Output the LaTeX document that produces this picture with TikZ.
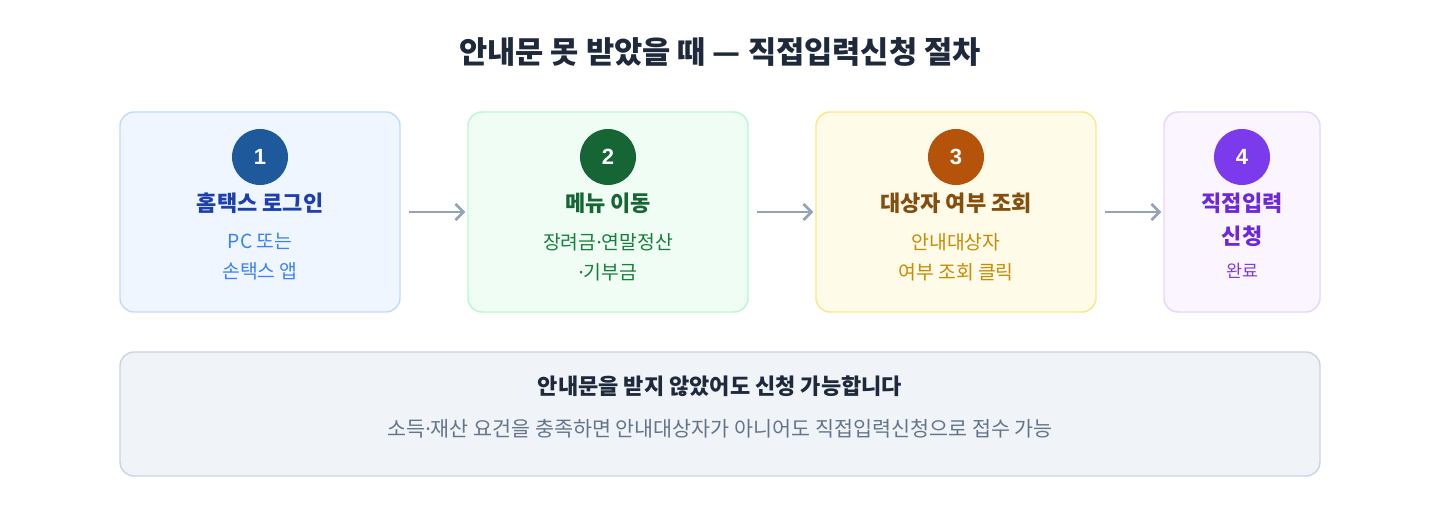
\documentclass[tikz,border=0pt]{standalone}
\usepackage{fontspec}
\setmainfont{Noto Sans CJK KR}
\newfontfamily\dotfont{Noto Sans}
\newfontfamily\numfont{Liberation Sans}[UprightFont={* Bold}]
\usepackage{tikz}
\usetikzlibrary{arrows.meta}

% narrow middle dot
\newcommand{\mdot}{{\dotfont ·}}

\definecolor{titlecol}{HTML}{1E293B}
\definecolor{arrowcol}{HTML}{94A3B8}
% step colours: fill, border, badge, heading, text
\definecolor{fillA}{HTML}{EFF6FF}\definecolor{lineA}{HTML}{BFDBFE}
\definecolor{badgeA}{HTML}{1E5A9B}\definecolor{headA}{HTML}{1E40AF}\definecolor{textA}{HTML}{3B82F6}
\definecolor{fillB}{HTML}{F0FDF4}\definecolor{lineB}{HTML}{BBF7D0}
\definecolor{badgeB}{HTML}{166534}\definecolor{headB}{HTML}{166534}\definecolor{textB}{HTML}{15803D}
\definecolor{fillC}{HTML}{FEFCE8}\definecolor{lineC}{HTML}{FDE68A}
\definecolor{badgeC}{HTML}{B45309}\definecolor{headC}{HTML}{854D0E}\definecolor{textC}{HTML}{CA8A04}
\definecolor{fillD}{HTML}{FAF5FF}\definecolor{lineD}{HTML}{E9D5FF}
\definecolor{badgeD}{HTML}{7C3AED}\definecolor{headD}{HTML}{6D28D9}\definecolor{textD}{HTML}{7C3AED}
\definecolor{fillN}{HTML}{F0F4F8}\definecolor{lineN}{HTML}{CBD5E1}
\definecolor{noteText}{HTML}{64748B}

\tikzset{
  stepbox/.style={draw=#1, line width=1.1pt, rounded corners=10.5pt,
    minimum height=150pt, inner sep=0pt},
  badge/.style={circle, fill=#1, minimum size=42pt, inner sep=0pt,
    text=white, font=\numfont\fontsize{16.5}{17}\selectfont},
  head/.style={text=#1, font=\fontsize{16.5}{18}\selectfont\bfseries, align=center},
  sub/.style={text=#1, font=\fontsize{14.5}{22.5}\selectfont, align=center},
  flow/.style={-{Straight Barb[length=6pt,width=12pt]}, arrowcol, line width=1.9pt,
    shorten <=6pt, shorten >=1.5pt},
}

\begin{document}
\begin{tikzpicture}[x=0.75pt, y=-0.75pt]
    \useasboundingbox[fill=white] (0,0) rectangle (1440,520);

    % title
    \node[text=titlecol, font=\fontsize{23}{25}\selectfont\bfseries] (title) at (720,52)
        {안내문 못 받았을 때 — 직접입력신청 절차};

    % step 1
    \node[stepbox=lineA, fill=fillA, minimum width=210pt] (s1) at (260,212) {};
    \node[badge=badgeA] (n1) at (260,157) {1};
    \node[head=headA] (h1) at (260,203) {홈택스 로그인};
    \node[sub=textA] (t1) at (260,257) {PC 또는\\손택스 앱};

    % step 2
    \node[stepbox=lineB, fill=fillB, minimum width=210pt] (s2) at (608,212) {};
    \node[badge=badgeB] (n2) at (608,157) {2};
    \node[head=headB] (h2) at (608,203) {메뉴 이동};
    \node[sub=textB] (t2) at (608,257) {장려금\mdot 연말정산\\\mdot 기부금};

    % step 3
    \node[stepbox=lineC, fill=fillC, minimum width=210pt] (s3) at (956,212) {};
    \node[badge=badgeC] (n3) at (956,157) {3};
    \node[head=headC] (h3) at (956,203) {대상자 여부 조회};
    \node[sub=textC] (t3) at (956,257) {안내대상자\\여부 조회 클릭};

    % step 4
    \node[stepbox=lineD, fill=fillD, minimum width=117pt] (s4) at (1242,212) {};
    \node[badge=badgeD] (n4) at (1242,157) {4};
    \node[head=headD, font=\fontsize{16.5}{24.75}\selectfont\bfseries] (h4) at (1242,219.5) {직접입력\\신청};
    \node[sub=textD, font=\fontsize{13}{14}\selectfont] (t4) at (1242,271) {완료};

    % arrows between steps
    \draw[flow] (s1.east) -- (s2.west);
    \draw[flow] (s2.east) -- (s3.west);
    \draw[flow] (s3.east) -- (s4.west);

    %%%%%%%%%%%%%%%%%%%%%%%%%%%%%%%%%%%%%%%%%%%%%%%%%%%%%%%%%

    % note
    \node[stepbox=lineN, fill=fillN, minimum width=900pt, minimum height=93pt] (note) at (720,414) {};
    \node[text=titlecol, font=\fontsize{16.5}{18}\selectfont\bfseries] (noteh) at (720,386)
        {안내문을 받지 않았어도 신청 가능합니다};
    \node[text=noteText, font=\fontsize{15.5}{17}\selectfont] (notet) at (720,429)
        {소득\mdot 재산 요건을 충족하면 안내대상자가 아니어도 직접입력신청으로 접수 가능};

\end{tikzpicture}
\end{document}
